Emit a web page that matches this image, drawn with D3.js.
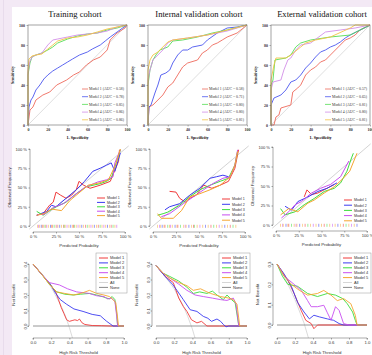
<!DOCTYPE html>
<html>
<head>
<meta charset="utf-8">
<script src="https://cdn.jsdelivr.net/npm/d3@7"></script>
<style>
  body { margin: 0; background: #f3e9f5; }
  svg { display: block; }
  .serif { font-family: "Liberation Serif", "DejaVu Serif", serif; }
  .sans { font-family: "Liberation Sans", Arial, sans-serif; }
</style>
</head>
<body>
<svg width="372" height="355"></svg>
<script>
// ---- data ----
const models = ['Model 1', 'Model 2', 'Model 3', 'Model 4', 'Model 5'];
const cohorts = ['Training cohort', 'Internal validation cohort', 'External validation cohort'];
const rocColors = ['#ee6a5c', '#4b56ee', '#55dd55', '#d28ee8', '#f2c444'];
const lineColors = ['#f03a3a', '#3a3af0', '#3ddd3d', '#c84ef0', '#f5a630'];

const aucTrain = ['0.58', '0.78', '0.85', '0.86', '0.86'];
const aucInternal = ['0.58', '0.71', '0.80', '0.80', '0.81'];
const aucExternal = ['0.57', '0.65', '0.81', '0.80', '0.81'];

// ROC points [1-specificity %, sensitivity %]
const rocTrain = [
  [[0,0],[2,15],[5,18],[8,25],[15,30],[22,33],[29,40],[39,45],[46,50],[52,53],[59,60],[66,65],[73,68],[80,75],[83,85],[90,92],[98,97],[100,100]],
  [[0,0],[1,18],[3,25],[5,28],[8,35],[12,40],[16,46],[20,50],[25,54],[30,57],[35,60],[40,63],[45,66],[52,70],[60,73],[65,76],[73,80],[78,84],[83,88],[90,93],[97,98],[100,100]],
  [[0,0],[0,50],[2,62],[4,68],[8,70],[14,72],[20,75],[25,78],[30,82],[40,86],[50,89],[60,91],[70,92],[80,95],[90,97],[100,100]],
  [[0,0],[0,53],[2,64],[4,68],[8,70],[14,72],[20,80],[25,85],[30,86],[40,88],[50,90],[60,91],[70,92],[80,94],[90,98],[100,100]],
  [[0,0],[0,55],[1,66],[4,69],[8,70],[14,71],[20,76],[25,80],[30,84],[40,87],[50,88],[60,90],[70,93],[80,96],[90,98],[100,100]]
];
const rocInternal = [
  [[0,0],[1,18],[5,20],[10,25],[15,30],[20,38],[25,42],[30,50],[35,58],[40,62],[50,65],[55,72],[60,75],[65,80],[70,82],[75,85],[80,88],[90,92],[95,96],[100,100]],
  [[0,0],[1,18],[3,20],[7,32],[10,40],[13,50],[18,52],[22,55],[25,62],[30,70],[35,75],[40,75],[45,78],[55,80],[60,85],[70,92],[80,97],[90,98],[100,100]],
  [[0,0],[0,40],[2,55],[5,65],[8,70],[12,75],[20,78],[25,84],[35,85],[50,88],[65,92],[80,95],[100,100]],
  [[0,0],[0,45],[2,55],[5,65],[10,70],[15,75],[20,82],[25,85],[40,87],[60,90],[80,94],[100,100]],
  [[0,0],[0,55],[2,65],[5,70],[10,73],[15,78],[20,83],[25,85],[40,87],[60,90],[80,95],[100,100]]
];
const rocExternal = [
  [[0,0],[3,0],[5,8],[8,10],[10,17],[20,20],[22,33],[27,37],[30,40],[35,50],[40,55],[45,58],[50,63],[55,65],[60,70],[65,75],[70,80],[75,85],[80,87],[85,90],[90,95],[100,100]],
  [[0,0],[0,20],[3,27],[10,30],[15,35],[20,43],[25,45],[30,50],[35,57],[40,62],[45,68],[50,73],[55,75],[60,78],[65,80],[70,83],[75,87],[80,90],[90,95],[100,100]],
  [[0,0],[0,40],[2,45],[4,65],[15,67],[20,70],[25,78],[30,82],[40,85],[60,88],[80,90],[90,95],[100,100]],
  [[0,0],[0,35],[2,43],[10,45],[13,55],[17,65],[20,67],[25,75],[30,80],[40,82],[55,93],[70,95],[85,97],[100,100]],
  [[0,0],[0,45],[3,60],[5,67],[15,67],[20,70],[30,78],[35,82],[45,85],[60,88],[80,97],[85,100],[100,100]]
];

// calibration points [predicted, observed]
const calTrain = [
  [[0.04,0.14],[0.11,0.16],[0.18,0.27],[0.22,0.31],[0.25,0.44],[0.3,0.40],[0.36,0.36],[0.42,0.40],[0.47,0.47],[0.5,0.58],[0.55,0.53],[0.62,0.49],[0.73,0.53],[0.84,0.58],[0.93,0.84],[0.94,0.99]],
  [[0.04,0.14],[0.15,0.19],[0.2,0.27],[0.25,0.25],[0.36,0.36],[0.47,0.47],[0.56,0.58],[0.65,0.71],[0.73,0.75],[0.8,0.79],[0.85,0.82],[0.89,0.71],[0.95,0.95]],
  [[0.04,0.19],[0.11,0.14],[0.22,0.23],[0.36,0.31],[0.47,0.42],[0.58,0.51],[0.73,0.55],[0.8,0.58],[0.85,0.62],[0.91,0.84],[0.95,0.99]],
  [[0.05,0.15],[0.12,0.15],[0.22,0.24],[0.33,0.29],[0.45,0.40],[0.56,0.50],[0.7,0.57],[0.8,0.60],[0.87,0.64],[0.89,0.82],[0.95,0.99]],
  [[0.04,0.14],[0.12,0.16],[0.2,0.22],[0.31,0.20],[0.4,0.33],[0.5,0.43],[0.6,0.53],[0.72,0.56],[0.82,0.60],[0.9,0.80],[0.95,1.0]]
];
const calInternal = [
  [[0.18,0.45],[0.25,0.44],[0.29,0.36],[0.35,0.31],[0.4,0.36],[0.47,0.40],[0.55,0.53],[0.64,0.49],[0.73,0.53],[0.82,0.58],[0.89,0.75],[0.93,0.99]],
  [[0.13,0.21],[0.18,0.25],[0.29,0.29],[0.4,0.40],[0.51,0.49],[0.62,0.62],[0.69,0.64],[0.76,0.66],[0.82,0.64]],
  [[0.05,0.14],[0.11,0.16],[0.16,0.18],[0.29,0.27],[0.4,0.38],[0.51,0.47],[0.62,0.53],[0.73,0.58],[0.82,0.62],[0.89,0.79],[0.92,0.97]],
  [[0.09,0.12],[0.18,0.16],[0.33,0.29],[0.44,0.38],[0.55,0.47],[0.65,0.55],[0.76,0.62],[0.84,0.64],[0.89,0.79],[0.92,0.99]],
  [[0.05,0.16],[0.09,0.10],[0.22,0.10],[0.31,0.20],[0.4,0.38],[0.51,0.42],[0.62,0.47],[0.73,0.53],[0.84,0.64],[0.89,0.79],[0.92,0.97]]
];
const calExternal = [
  [[0.31,0.36],[0.34,0.45],[0.39,0.39],[0.46,0.41],[0.56,0.47],[0.64,0.52]],
  [[0.1,0.24],[0.17,0.19],[0.24,0.30],[0.35,0.36],[0.46,0.43],[0.56,0.47],[0.67,0.54]],
  [[0.05,0.21],[0.1,0.13],[0.21,0.17],[0.31,0.26],[0.42,0.34],[0.53,0.43],[0.64,0.47],[0.71,0.54],[0.78,0.69],[0.83,0.86],[0.85,0.92]],
  [[0.06,0.09],[0.14,0.17],[0.21,0.26],[0.28,0.30],[0.39,0.41],[0.49,0.47],[0.6,0.52],[0.71,0.62],[0.8,0.82]],
  [[0.05,0.13],[0.14,0.21],[0.24,0.17],[0.35,0.28],[0.42,0.32],[0.53,0.41],[0.64,0.49],[0.74,0.60],[0.81,0.69],[0.89,0.92]]
];

// rug of predicted probabilities
const rugTrain = [0.05,0.06,0.07,0.09,0.1,0.11,0.13,0.14,0.15,0.17,0.19,0.2,0.21,0.23,0.25,0.26,0.27,0.29,0.31,0.33,0.34,0.35,0.37,0.39,0.41,0.43,0.44,0.45,0.47,0.49,0.51,0.53,0.55,0.57,0.59,0.61,0.63,0.65,0.67,0.69,0.71,0.73,0.75,0.77,0.79,0.81,0.83,0.85,0.87,0.89,0.91];
const rugInternal = [0.05,0.07,0.08,0.1,0.12,0.13,0.16,0.18,0.19,0.21,0.24,0.26,0.27,0.3,0.33,0.35,0.36,0.39,0.42,0.44,0.45,0.48,0.51,0.54,0.57,0.6,0.63,0.66,0.69,0.72,0.75,0.78,0.81,0.84,0.87,0.9];
const rugExternal = [0.05,0.07,0.08,0.11,0.13,0.14,0.17,0.2,0.22,0.23,0.26,0.29,0.32,0.35,0.38,0.41,0.44,0.47,0.5,0.53,0.56,0.59,0.62,0.65,0.68,0.71,0.74,0.77,0.8,0.83,0.86,0.89];

// decision curves [threshold, net benefit]
const dcaTrain = [
  [[0,0.40],[0.1,0.33],[0.2,0.26],[0.25,0.22],[0.28,0.17],[0.31,0.12],[0.34,0.08],[0.37,0.04],[0.40,0.03],[0.43,0.035],[0.46,0.04],[0.49,0.035],[0.51,0.045],[0.54,0.02],[0.57,0.01],[0.65,0.003],[0.75,0.002],[0.85,0],[1,0]],
  [[0,0.40],[0.1,0.33],[0.18,0.28],[0.25,0.21],[0.3,0.17],[0.37,0.14],[0.45,0.11],[0.55,0.094],[0.65,0.075],[0.74,0.066],[0.78,0.045],[0.81,0.03],[0.88,0],[1,0]],
  [[0,0.40],[0.1,0.33],[0.18,0.27],[0.26,0.22],[0.35,0.205],[0.44,0.20],[0.52,0.205],[0.62,0.21],[0.7,0.20],[0.76,0.19],[0.81,0.18],[0.84,0.175],[0.87,0.19],[0.9,0.17],[0.92,0.08],[0.93,0],[1,0]],
  [[0,0.40],[0.1,0.33],[0.18,0.28],[0.29,0.265],[0.38,0.24],[0.48,0.22],[0.55,0.215],[0.62,0.21],[0.7,0.195],[0.78,0.19],[0.82,0.175],[0.86,0.18],[0.9,0.16],[0.92,0.06],[0.93,0],[1,0]],
  [[0,0.40],[0.1,0.33],[0.18,0.27],[0.26,0.22],[0.35,0.21],[0.45,0.20],[0.55,0.215],[0.62,0.23],[0.7,0.21],[0.78,0.20],[0.84,0.19],[0.88,0.17],[0.91,0.15],[0.93,0.05],[0.94,0],[1,0]]
];
const dcaInternal = [
  [[0,0.39],[0.1,0.32],[0.19,0.28],[0.25,0.18],[0.3,0.126],[0.34,0.094],[0.39,0.04],[0.45,0.02],[0.5,0.03],[0.56,0],[0.7,0],[1,0]],
  [[0,0.39],[0.1,0.32],[0.18,0.27],[0.23,0.23],[0.3,0.17],[0.375,0.105],[0.45,0.094],[0.52,0.062],[0.57,0.05],[0.61,0.03],[0.67,0.045],[0.71,0.03],[0.74,0.01],[0.77,-0.005],[0.8,0],[1,0]],
  [[0,0.39],[0.08,0.34],[0.15,0.32],[0.25,0.29],[0.34,0.25],[0.41,0.21],[0.48,0.22],[0.56,0.21],[0.62,0.225],[0.67,0.20],[0.74,0.17],[0.78,0.20],[0.83,0.17],[0.87,0.15],[0.91,0],[1,0]],
  [[0,0.39],[0.08,0.34],[0.15,0.31],[0.25,0.27],[0.34,0.23],[0.43,0.20],[0.52,0.19],[0.62,0.18],[0.71,0.17],[0.78,0.165],[0.85,0.18],[0.88,0.14],[0.91,0],[1,0]],
  [[0,0.39],[0.08,0.34],[0.15,0.31],[0.25,0.28],[0.34,0.26],[0.41,0.23],[0.49,0.24],[0.56,0.22],[0.6,0.21],[0.71,0.19],[0.8,0.18],[0.85,0.17],[0.89,0.14],[0.92,0],[1,0]]
];
const dcaExternal = [
  [[0,0.30],[0.06,0.26],[0.12,0.22],[0.19,0.155],[0.27,0.07],[0.32,0.023],[0.38,0.007],[0.41,-0.018],[0.45,0],[1,0]],
  [[0,0.30],[0.08,0.25],[0.16,0.19],[0.23,0.11],[0.30,0.064],[0.36,0.03],[0.41,0.048],[0.47,0.04],[0.56,0.03],[0.63,0.023],[0.69,0.007],[0.74,0],[1,0]],
  [[0,0.30],[0.06,0.24],[0.12,0.20],[0.23,0.19],[0.34,0.155],[0.45,0.14],[0.56,0.155],[0.65,0.147],[0.73,0.13],[0.78,0.105],[0.84,0.064],[0.87,0.023],[0.89,0],[1,0]],
  [[0,0.30],[0.08,0.24],[0.19,0.20],[0.27,0.17],[0.34,0.12],[0.38,0.09],[0.45,0.09],[0.52,0.097],[0.56,0.06],[0.6,0.023],[0.65,0.09],[0.69,0.072],[0.74,0.007],[0.8,0],[1,0]],
  [[0,0.30],[0.08,0.24],[0.16,0.20],[0.25,0.17],[0.34,0.147],[0.45,0.155],[0.52,0.17],[0.6,0.147],[0.67,0.12],[0.74,0.13],[0.82,0.105],[0.87,0.048],[0.89,0],[1,0]]
];
const dcaAll = [
  [[0,0.40],[0.1,0.335],[0.2,0.25],[0.3,0.14],[0.35,0.075],[0.4,-0.01],[0.45,-0.11]],
  [[0,0.39],[0.1,0.32],[0.2,0.24],[0.3,0.13],[0.35,0.06],[0.4,-0.02],[0.45,-0.12]],
  [[0,0.30],[0.1,0.22],[0.2,0.125],[0.3,0.01],[0.35,-0.065],[0.4,-0.16]]
];

const dcaLegend = ['Model 1', 'Model 2', 'Model 3', 'Model 4', 'Model 5', 'All', 'None'];
const dcaLegendColors = lineColors.concat(['#d6d6d6', '#8a8a8a']);

// ---- layout ----
const svg = d3.select('svg');
svg.append('rect').attr('x', 12).attr('y', 7).attr('width', 360).attr('height', 348).attr('fill', '#fff');
svg.append('line').attr('x1', 3.5).attr('x2', 3.5).attr('y1', 0).attr('y2', 355).attr('stroke', '#e8dcec');

const rocPanels = [
  { x0: 28, x1: 127, tx: 75, data: rocTrain, auc: aucTrain },
  { x0: 148, x1: 247, tx: 199, data: rocInternal, auc: aucInternal },
  { x0: 271, x1: 370, tx: 322, data: rocExternal, auc: aucExternal }
];
const calPanels = [
  { x0: 33, x1: 125, y0: 226, y1: 149, data: calTrain, rug: rugTrain, legY: 198, legDy: 4.4, legX: 64 },
  { x0: 153, x1: 245, y0: 226, y1: 149, data: calInternal, rug: rugInternal, legY: 199, legDy: 5.3, legX: 69 },
  { x0: 276, x1: 367, y0: 225, y1: 147, data: calExternal, rug: rugExternal, legY: 200, legDy: 5.2, legX: 68 }
];
const dcaPanels = [
  { x0: 33, x1: 124, y0: 326, yT: 264, max: 0.4, data: dcaTrain, all: dcaAll[0] },
  { x0: 156, x1: 247, y0: 326, yT: 264, max: 0.4, data: dcaInternal, all: dcaAll[1] },
  { x0: 277, x1: 367, y0: 325, yT: 264, max: 0.3, data: dcaExternal, all: dcaAll[2] }
];

// ROC row
rocPanels.forEach((p, k) => {
  const x = d3.scaleLinear().domain([0, 100]).range([p.x0, p.x1]);
  const y = d3.scaleLinear().domain([0, 100]).range([125, 25]);
  const g = svg.append('g');

  g.append('text').attr('class', 'serif').attr('x', p.tx).attr('y', 17)
    .attr('text-anchor', 'middle').attr('font-size', 8.6).attr('fill', '#111').text(cohorts[k]);

  g.append('line').attr('x1', x(0)).attr('y1', y(0)).attr('x2', x(100)).attr('y2', y(100))
    .attr('stroke', '#c8c8c8').attr('stroke-width', 0.6);

  const line = d3.line().x(d => x(d[0])).y(d => y(d[1]));
  p.data.forEach((pts, i) => {
    g.append('path').attr('d', line(pts)).attr('fill', 'none')
      .attr('stroke', rocColors[i]).attr('stroke-width', 0.9);
  });

  g.append('rect').attr('x', p.x0).attr('y', 25).attr('width', p.x1 - p.x0).attr('height', 100)
    .attr('fill', 'none').attr('stroke', '#666').attr('stroke-width', 0.6);

  const ya = g.append('g').attr('transform', `translate(${p.x0},0)`)
    .call(d3.axisLeft(y).tickValues([0, 20, 40, 60, 80, 100]).tickSize(1.5).tickPadding(1.5));
  const xa = g.append('g').attr('transform', 'translate(0,125)')
    .call(d3.axisBottom(x).tickValues([0, 20, 40, 60, 80, 100]).tickSize(1.5).tickPadding(1.5));
  [ya, xa].forEach(a => {
    a.select('.domain').remove();
    a.selectAll('line').attr('stroke', '#666').attr('stroke-width', 0.5);
    a.selectAll('text').attr('class', 'serif').attr('font-size', 4).attr('font-weight', 'bold').attr('fill', '#333');
  });

  g.append('text').attr('class', 'serif').attr('transform', `translate(${p.x0 - 14},75) rotate(-90)`)
    .attr('text-anchor', 'middle').attr('font-size', 4).attr('font-weight', 'bold').text('Sensitivity');
  g.append('text').attr('class', 'serif').attr('x', (p.x0 + p.x1) / 2).attr('y', 138.5)
    .attr('text-anchor', 'middle').attr('font-size', 4).attr('font-weight', 'bold').text('1- Specificity');

  models.forEach((m, i) => {
    const ly = 89 + i * 7.7;
    g.append('line').attr('x1', p.x0 + 54).attr('x2', p.x0 + 60).attr('y1', ly).attr('y2', ly)
      .attr('stroke', rocColors[i]).attr('stroke-width', 0.8);
    g.append('text').attr('class', 'serif').attr('x', p.x0 + 61).attr('y', ly + 1.3)
      .attr('font-size', 3.8).attr('fill', '#333').text(`${m} (AUC = ${p.auc[i]})`);
  });
});

// calibration row
calPanels.forEach(p => {
  const x = d3.scaleLinear().domain([0, 1]).range([p.x0, p.x1]);
  const y = d3.scaleLinear().domain([0, 1]).range([p.y0, p.y1]);
  const g = svg.append('g');

  g.append('line').attr('x1', x(-0.04)).attr('y1', y(-0.04)).attr('x2', x(1.04)).attr('y2', y(1.04))
    .attr('stroke', '#c8c8c8').attr('stroke-width', 0.8);

  p.rug.forEach((v, i) => {
    g.append('line').attr('x1', x(v)).attr('x2', x(v)).attr('y1', p.y0 - 1.2).attr('y2', p.y0 + 1.8)
      .attr('stroke', lineColors[[4, 3, 4, 1, 4, 0, 2][i % 7]]).attr('stroke-width', 0.7).attr('opacity', 0.75);
  });

  const line = d3.line().x(d => x(d[0])).y(d => y(d[1]));
  p.data.forEach((pts, i) => {
    g.append('path').attr('d', line(pts)).attr('fill', 'none')
      .attr('stroke', lineColors[i]).attr('stroke-width', 1);
  });

  const ticks = [0, 0.25, 0.5, 0.75, 1];
  const fmt = d => `${Math.round(d * 100)} %`;
  const ya = g.append('g').attr('transform', `translate(${p.x0 - 3},0)`)
    .call(d3.axisLeft(y).tickValues(ticks).tickFormat(fmt).tickSize(1.5).tickPadding(1.5));
  const xa = g.append('g').attr('transform', `translate(0,${p.y0 + 6})`)
    .call(d3.axisBottom(x).tickValues(ticks).tickFormat(fmt).tickSize(1.5).tickPadding(1.5));
  [ya, xa].forEach(a => {
    a.select('.domain').attr('stroke', '#555').attr('stroke-width', 0.5);
    a.selectAll('line').attr('stroke', '#555').attr('stroke-width', 0.5);
    a.selectAll('text').attr('class', 'sans').attr('font-size', 4.1).attr('fill', '#333');
  });
  ya.select('.domain').attr('d', `M-1.5,${y(0)}H0V${y(1)}H-1.5`);
  xa.select('.domain').attr('d', `M${x(0)},1.5V0H${x(1)}V1.5`);

  g.append('text').attr('class', 'sans').attr('transform', `translate(${p.x0 - 22},${(p.y0 + p.y1) / 2}) rotate(-90)`)
    .attr('text-anchor', 'middle').attr('font-size', 4.3).attr('fill', '#333').text('Observed Frequency');
  g.append('text').attr('class', 'sans').attr('x', (p.x0 + p.x1) / 2).attr('y', p.y0 + 21)
    .attr('text-anchor', 'middle').attr('font-size', 4.3).attr('fill', '#333').text('Predicted Probability');

  models.forEach((m, i) => {
    const ly = p.legY + i * p.legDy;
    g.append('line').attr('x1', p.x0 + p.legX).attr('x2', p.x0 + p.legX + 8).attr('y1', ly).attr('y2', ly)
      .attr('stroke', lineColors[i]).attr('stroke-width', 1);
    g.append('text').attr('class', 'sans').attr('x', p.x0 + p.legX + 10).attr('y', ly + 1.3)
      .attr('font-size', 3.6).attr('fill', '#333').text(m);
  });
});

// decision curve row
dcaPanels.forEach((p, k) => {
  const x = d3.scaleLinear().domain([0, 1]).range([p.x0, p.x1]);
  const y = d3.scaleLinear().domain([0, p.max]).range([p.y0, p.yT]);
  const g = svg.append('g');
  const clipId = 'clip' + k;
  svg.append('clipPath').attr('id', clipId).append('rect')
    .attr('x', p.x0 - 4).attr('y', p.yT - 4).attr('width', p.x1 - p.x0 + 8).attr('height', 338 - p.yT + 4);

  const line = d3.line().x(d => x(d[0])).y(d => y(d[1]));
  const plot = g.append('g').attr('clip-path', `url(#${clipId})`);
  plot.append('path').attr('d', line(p.all)).attr('fill', 'none')
    .attr('stroke', dcaLegendColors[5]).attr('stroke-width', 0.9);
  plot.append('path').attr('d', line([[0, 0], [1, 0]])).attr('fill', 'none')
    .attr('stroke', dcaLegendColors[6]).attr('stroke-width', 0.9);
  p.data.forEach((pts, i) => {
    plot.append('path').attr('d', line(pts)).attr('fill', 'none')
      .attr('stroke', lineColors[i]).attr('stroke-width', 0.9);
  });

  const yt = p.max === 0.4 ? [0, 0.1, 0.2, 0.3, 0.4] : [0, 0.1, 0.2, 0.3];
  const ya = g.append('g').attr('transform', `translate(${p.x0 - 4},0)`)
    .call(d3.axisLeft(y).tickValues(yt).tickFormat(d3.format('.1f')).tickSize(1.5).tickPadding(2));
  const xa = g.append('g').attr('transform', 'translate(0,338)')
    .call(d3.axisBottom(x).tickValues([0, 0.2, 0.4, 0.6, 0.8, 1]).tickFormat(d3.format('.1f')).tickSize(1.5).tickPadding(1.5));
  [ya, xa].forEach(a => {
    a.select('.domain').attr('stroke', '#555').attr('stroke-width', 0.5);
    a.selectAll('line').attr('stroke', '#555').attr('stroke-width', 0.5);
    a.selectAll('text').attr('class', 'sans').attr('font-size', 4.3).attr('fill', '#333');
  });
  ya.select('.domain').attr('d', `M-1.5,${y(0)}H0V${y(p.max)}H-1.5`);
  xa.select('.domain').attr('d', `M${x(0)},1.5V0H${x(1)}V1.5`);
  ya.selectAll('.tick text').attr('text-anchor', 'middle').attr('dy', 0)
    .attr('transform', function () { return `translate(${+d3.select(this).attr('x') + 1},0) rotate(-90)`; })
    .attr('x', 0).attr('y', 0);

  g.append('text').attr('class', 'sans').attr('transform', `translate(${p.x0 - 18},${(p.y0 + p.yT) / 2}) rotate(-90)`)
    .attr('text-anchor', 'middle').attr('font-size', 4.3).attr('fill', '#333').text('Net Benefit');
  g.append('text').attr('class', 'sans').attr('x', (p.x0 + p.x1) / 2).attr('y', 354)
    .attr('text-anchor', 'middle').attr('font-size', 4.3).attr('fill', '#333').text('High Risk Threshold');

  const bx = p.x0 + 63, by = 253;
  g.append('rect').attr('x', bx).attr('y', by).attr('width', 31).attr('height', 40)
    .attr('fill', '#fff').attr('stroke', '#999').attr('stroke-width', 0.5);
  dcaLegend.forEach((m, i) => {
    const ly = by + 5 + i * 4.9;
    g.append('line').attr('x1', bx + 3).attr('x2', bx + 12).attr('y1', ly).attr('y2', ly)
      .attr('stroke', dcaLegendColors[i]).attr('stroke-width', 1);
    g.append('text').attr('class', 'sans').attr('x', bx + 14).attr('y', ly + 1.4)
      .attr('font-size', 4).attr('fill', '#333').text(m);
  });
});
</script>
</body>
</html>
